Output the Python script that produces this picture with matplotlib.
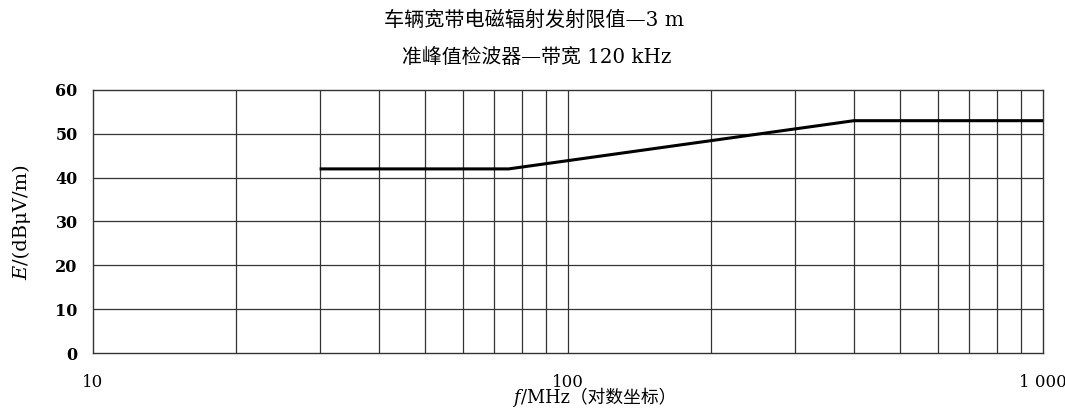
import matplotlib
matplotlib.use("Agg")
import matplotlib.pyplot as plt

freq_mhz = [30, 75, 400, 1000]
limit_db = [42, 42, 53, 53]
grid_freqs = [20, 30, 40, 50, 60, 70, 80, 90, 100, 200, 300, 400, 500, 600, 700, 800, 900]
xtick_vals = [10, 100, 1000]
xtick_labels = ["10", "100", "1 000"]
ytick_vals = [0, 10, 20, 30, 40, 50, 60]
title1 = "车辆宽带电磁辐射发射限值—3 m"
title2 = "准峰值检波器—带宽 120 kHz"

FAM = ['DejaVu Serif', 'Noto Sans CJK SC']
plt.rcParams['font.family'] = FAM

W, H = 1065, 412
fig = plt.figure(figsize=(W / 100, H / 100), dpi=100)
ax = fig.add_axes([93 / W, 1 - 353 / H, 950 / W, 263 / H])
ax.set_xscale('log')
ax.set_xlim(10, 1000)
ax.set_ylim(0, 60)

for g in grid_freqs:
    ax.axvline(g, color='#333333', lw=0.9, zorder=1)
for y in ytick_vals[1:-1]:
    ax.axhline(y, color='#333333', lw=0.9, zorder=1)

ax.plot(freq_mhz, limit_db, color='black', lw=2.2, zorder=3, solid_capstyle='butt')

for s in ax.spines.values():
    s.set_color('#333333')
    s.set_linewidth(1.0)

ax.set_xticks(xtick_vals)
ax.set_xticklabels(xtick_labels, fontsize=12)
ax.xaxis.set_minor_locator(matplotlib.ticker.NullLocator())
ax.set_yticks(ytick_vals)
ax.set_yticklabels([str(v) for v in ytick_vals], fontsize=11.5, fontweight='bold')
ax.tick_params(axis='x', length=0, pad=15)
ax.tick_params(axis='y', length=0, pad=11)

renderer = fig.canvas.get_renderer()


def place_pieces(pieces, cx, cy, size, rotation=0, gap=1.0):
    """Place a run of text pieces centred at pixel (cx, cy) from top-left."""
    texts = []
    widths = []
    for txt, style in pieces:
        t = fig.text(0, 0, txt, fontsize=size, fontstyle=style, family=FAM,
                     ha='left', va='center', rotation=rotation,
                     rotation_mode='anchor')
        bb = t.get_window_extent(renderer)
        w = bb.width if rotation == 0 else bb.height
        texts.append(t)
        widths.append(w)
    total = sum(widths) + gap * (len(widths) - 1)
    pos = -total / 2
    for t, w in zip(texts, widths):
        if rotation == 0:
            t.set_position(((cx + pos) / W, 1 - cy / H))
        else:
            t.set_position((cx / W, 1 - (cy - pos) / H))
        pos += w + gap
    return texts


fig.text(534 / W, 1 - 20 / H, title1, ha='center', va='center', fontsize=14.5, family=FAM)
fig.text(537 / W, 1 - 57 / H, title2, ha='center', va='center', fontsize=14.3, family=FAM)
place_pieces([("f", 'italic'), ("/MHz（对数坐标）", 'normal')], 595, 398, 12.8)
place_pieces([("E", 'italic'), ("/(dBμV/m)", 'normal')], 22, 222, 14, rotation=90)

fig.savefig("out.png", dpi=100)
